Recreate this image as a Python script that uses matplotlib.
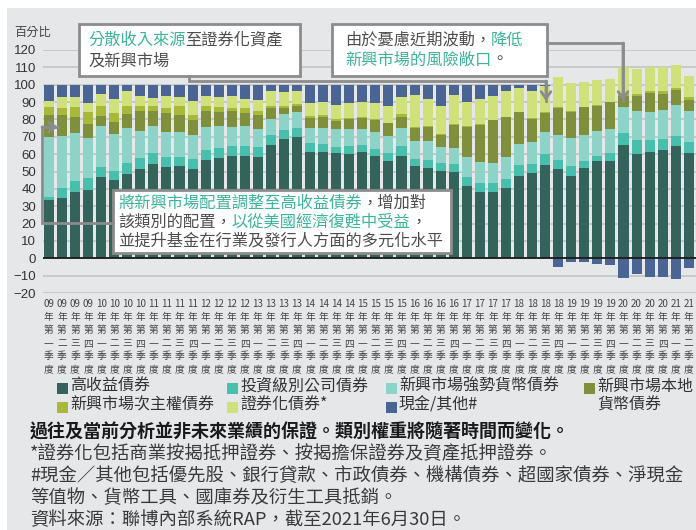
import numpy as np
import matplotlib
matplotlib.use('Agg')
import matplotlib.pyplot as plt
from matplotlib.patches import Rectangle
from matplotlib.lines import Line2D

plt.rcParams['font.family'] = ['Noto Sans CJK TC', 'DejaVu Sans']

# 季度標籤
years = ['09', '10', '11', '12', '13', '14', '15', '16', '17', '18', '19', '20', '21']
quarter_names = ['一', '二', '三', '四']

# 各類別權重 (百分比), 2009年第一季 至 2021年第二季
high_yield = [33.5, 34.5, 38, 39.5, 47, 45, 48.5, 51.5, 54.5, 52.5,
              53, 51.5, 56.5, 57.5, 59, 59, 58.5, 65, 68.5, 70,
              61.5, 61, 60.5, 60, 61, 59, 56, 59, 53, 52,
              50.5, 49.5, 41.5, 38, 38, 40.5, 47.5, 49, 54, 51.5,
              47.5, 52, 56, 56, 65, 60, 61.5, 62.5, 64.5, 60.5]
inv_grade = [2, 6, 6.5, 6.5, 5.5, 5.5, 6.5, 6, 6, 6,
             5.5, 5.5, 6, 6, 5.5, 5.8, 5.5, 6.2, 5.5, 5,
             4.8, 4.6, 3.8, 4.5, 4, 4.2, 4.4, 5.7, 4.2, 4.8,
             4.6, 4.8, 5.5, 5.4, 5.4, 5.2, 6, 5.2, 5.8, 5.4,
             5.7, 3.8, 2.9, 4.4, 7, 8, 6.7, 6, 6.2, 6.5]
em_hard = [34.5, 30, 27.5, 23.5, 23.5, 21, 20, 16, 15.5, 14.2,
           14.4, 13.8, 13, 12.5, 11.2, 11.5, 10.5, 9.3, 9.3, 9.4,
           8.6, 9.4, 10, 9.7, 9.6, 9.6, 10, 10.2, 10.1, 10.5,
           9.1, 9.5, 11.6, 11.9, 11.5, 12.6, 12.5, 12.9, 12.8, 14.4,
           15.9, 15.4, 14.4, 14.2, 15, 16.7, 16.3, 17.2, 17.8, 17.8]
em_local = [12.5, 12, 9.6, 8, 5.7, 7.1, 8.1, 11.5, 8.7, 11.1,
            9.6, 8.8, 9.2, 8.4, 9, 7.2, 8.3, 6.2, 3.5, 3.3,
            6.2, 6.4, 5, 5.8, 6.2, 7, 7.3, 6.7, 7.7, 8.6,
            6.8, 13.1, 17.2, 21.6, 24.5, 23, 18, 13.4, 11.1, 15.3,
            15.4, 15.9, 14.7, 15.3, 6.5, 8.6, 10.5, 9.2, 8.2, 6.3]
em_quasi = [4.5, 4.2, 5.4, 6.9, 5.8, 5.3, 4.4, 2.9, 2.8, 2.9,
            5.1, 2.7, 2.8, 2.5, 2, 2.9, 2, 1, 1, 1,
            1, 1, 1, 0.8, 0.8, 0.5, 0.5, 1.5, 0.5, 0.5,
            0.5, 0.5, 0.3, 0.3, 0.3, 0.3, 0.3, 0.3, 0.3, 0.3,
            0.3, 0.3, 0.3, 0.3, 1.5, 1.5, 1.5, 1.4, 1.4, 1.9]
securitized = [3.6, 6.1, 6.1, 4.8, 7.2, 8.1, 9, 5.7, 5, 6.7,
               5.4, 8.2, 6.2, 6.3, 7, 5.2, 6.3, 8.5, 7.8, 7.4,
               7.3, 7.8, 8.2, 8.4, 8.4, 9.3, 9.8, 10, 18.6, 15.3,
               16.1, 16.6, 14.1, 14.5, 13.9, 14.5, 13.7, 15.6, 15.4, 17.5,
               16.3, 14.4, 14.7, 13.2, 15.3, 14.2, 13.5, 14, 13, 12.3]
cash_other = [9.4, 7.2, 6.9, 10.8, 5.3, 8, 3.5, 6.4, 7.5, 6.6,
              7, 9.5, 6.3, 6.8, 6.3, 8.4, 8.9, 3.8, 4.4, 3.9,
              10.6, 9.8, 11.5, 10.8, 10, 10.4, 12, 6.9, 5.9, 8.3,
              12.4, 6, 9.8, 8.3, 6.4, 3.9, 2, 3.6, 0.6, -4.8,
              -1.9, -2.1, -3.1, -3.8, -11.1, -9.2, -10.5, -10.5, -11.7, -5.7]

legend_labels = ['高收益債券', '投資級別公司債券', '新興市場強勢貨幣債券', '新興市場本地\n貨幣債券',
                 '新興市場次主權債券', '證券化債券*', '現金/其他#']

colors = ['#33635a', '#48bfac', '#8ed3c8', '#7f8f3b', '#a8b93a', '#d0e17c', '#4a6594']
teal_txt = '#3db39c'
gray_txt = '#4d4d4d'
line_col = '#8c8c8c'

W, H = 696, 530


def fx(x):
    return x / W


def fy(y):
    return 1 - y / H


fig = plt.figure(figsize=(W / 100, H / 100), dpi=100)
fig.patch.set_facecolor('white')
fig.add_artist(Rectangle((fx(7), 0), 1 - fx(7), fy(8), transform=fig.transFigure,
                         facecolor='#e6e7e9', edgecolor='none', zorder=-10))

ax = fig.add_axes([fx(43), fy(293), fx(696) - fx(43), (293 - 50) / H])
ax.set_facecolor('none')

x = np.arange(len(high_yield))
series = [high_yield, inv_grade, em_hard, em_local, em_quasi, securitized]
bottom = np.zeros(len(x))
for vals, c in zip(series, colors[:6]):
    ax.bar(x, vals, 0.77, bottom=bottom, color=c, linewidth=0, zorder=3)
    bottom += np.array(vals)
cash = np.array(cash_other)
ax.bar(x, np.where(cash > 0, cash, 0), 0.77, bottom=bottom, color=colors[6], linewidth=0, zorder=3)
ax.bar(x, np.where(cash < 0, cash, 0), 0.77, color=colors[6], linewidth=0, zorder=3)

ax.set_xlim(-0.45, len(x) - 0.45)
ax.set_ylim(-20, 120)
ax.set_yticks(range(-20, 121, 10))
ax.yaxis.grid(True, color='#c5c6c8', lw=1.3)
ax.set_axisbelow(True)
ax.axhline(0, color='#1a1a1a', lw=1.3, zorder=4)
for s in ax.spines.values():
    s.set_visible(False)

ax.tick_params(axis='y', length=0, pad=5, labelsize=9.5, labelcolor='#333333')
for t in ax.get_yticklabels():
    t.set_fontfamily('Liberation Sans')

xlabels = [f'{y}\n年\n第\n{q}\n季\n度' for y in years for q in quarter_names][:len(x)]
ax.set_xticks(x)
ax.set_xticklabels(xlabels, fontsize=7, linespacing=1.4, color='#444444')
ax.tick_params(axis='x', length=0, pad=4)

fig.text(fx(14), fy(32), '百分比', fontsize=8.8, va='center', color='#444444')

# 註解框
def box(x0, y0, x1, y1):
    fig.add_artist(Rectangle((fx(x0), fy(y1)), fx(x1) - fx(x0), fy(y0) - fy(y1),
                             transform=fig.transFigure, facecolor='white',
                             edgecolor=line_col, lw=2, zorder=5))


def connector(points):
    xs = [fx(p[0]) for p in points]
    ys = [fy(p[1]) for p in points]
    fig.add_artist(Line2D(xs, ys, color=line_col, lw=2, zorder=6,
                          solid_joinstyle='miter', transform=fig.transFigure))
    ax.annotate('', xy=(xs[-1], ys[-1]), xytext=(xs[-2], ys[-2]), xycoords='figure fraction',
                arrowprops=dict(arrowstyle='->,head_length=0.5,head_width=0.35',
                                color=line_col, lw=2, shrinkA=0, shrinkB=0),
                annotation_clip=False, zorder=6)


def seg_text(x0, y0, parts, fs=11.7):
    n = 0
    for s, c in parts:
        fig.text(fx(x0 + n * fs * 100 / 72), fy(y0), s, fontsize=fs, color=c,
                 va='center', ha='left', zorder=7)
        n += len(s)


connector([(189, 76), (189, 81), (546, 81), (546, 101)])
connector([(547, 43), (623, 43), (623, 101)])
connector([(113, 223), (42, 223), (42, 127), (58, 127)])

box(79, 24, 300, 76)
seg_text(88, 40, [('分散收入來源', teal_txt), ('至證券化資產', gray_txt)])
seg_text(88, 61, [('及新興市場', gray_txt)])

box(332, 24, 547, 76)
seg_text(345, 40, [('由於憂慮近期波動，', gray_txt), ('降低', teal_txt)])
seg_text(345, 60, [('新興市場的風險敞口', teal_txt), ('。', gray_txt)])

box(113, 190, 451, 253)
seg_text(118, 203, [('將新興市場配置調整至高收益債券', teal_txt), ('，增加對', gray_txt)])
seg_text(118, 222, [('該類別的配置，', gray_txt), ('以從美國經濟復甦中受益', teal_txt), ('，', gray_txt)])
seg_text(118, 241, [('並提升基金在行業及發行人方面的多元化水平', gray_txt)])

# 圖例
leg_pos = [(57, 388), (227, 388), (386, 388), (584, 388), (57, 407), (227, 407), (386, 407)]
for (lx, ly), lab, c in zip(leg_pos, legend_labels, colors):
    fig.add_artist(Rectangle((fx(lx), fy(ly + 5.5)), 11 / W, 11 / H, transform=fig.transFigure,
                             facecolor=c, edgecolor='none'))
    fig.text(fx(lx + 13), fy(ly - 10), lab, fontsize=11.5, color='#333333',
             va='top', ha='left', linespacing=1.1)

# 說明文字
fig.text(fx(30), fy(432), '過往及當前分析並非未來業績的保證。類別權重將隨著時間而變化。',
         fontsize=13, fontweight='bold', color='#1a1a1a', va='center')
notes = ['*證券化包括商業按揭抵押證券、按揭擔保證券及資產抵押證券。',
         '#現金／其他包括優先股、銀行貸款、市政債券、機構債券、超國家債券、淨現金',
         '等值物、貨幣工具、國庫券及衍生工具抵銷。',
         '資料來源：聯博內部系統RAP，截至2021年6月30日。']
for t, yy in zip(notes, [454, 476, 498, 520]):
    fig.text(fx(30), fy(yy), t, fontsize=13.2, color='#3a3a3a', va='center')

fig.savefig('out.png', dpi=100, facecolor=fig.get_facecolor())
